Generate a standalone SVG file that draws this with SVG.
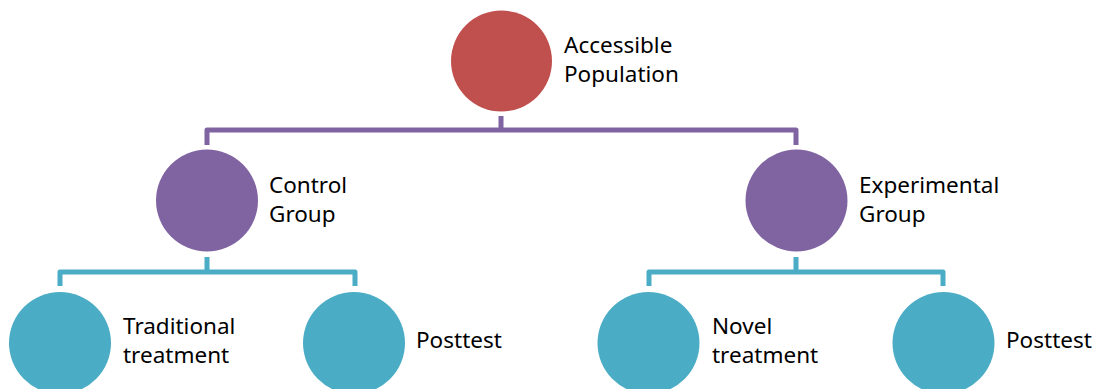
<svg xmlns="http://www.w3.org/2000/svg" width="1104" height="389" viewBox="0 0 1104 389">
<style>
.lbl{font-family:"Noto Sans","Open Sans","DejaVu Sans",sans-serif;font-size:22.5px;fill:#000}
.red{fill:#C0504D}
.pur{fill:#8064A2}
.teal{fill:#4BACC6}
.cp{fill:none;stroke:#8064A2;stroke-width:5;stroke-linejoin:round}
.ct{fill:none;stroke:#4BACC6;stroke-width:5;stroke-linejoin:round}
</style>
<rect width="1104" height="389" fill="#fff"/>
<g id="connectors">
<path class="cp" d="M501 116V130M207 145V130H796V145"/>
<path class="ct" d="M207 257V272M60 286V272H355V286"/>
<path class="ct" d="M796 257V272M649 286V272H943V286"/>
</g>
<g id="accessible-population">
<circle class="red" cx="501.5" cy="61" r="50.5"/>
<text class="lbl" x="564" y="53">Accessible</text>
<text class="lbl" x="564" y="82">Population</text>
</g>
<g id="control-group">
<circle class="pur" cx="207" cy="200.5" r="51"/>
<text class="lbl" x="269" y="193">Control</text>
<text class="lbl" x="269" y="222">Group</text>
</g>
<g id="experimental-group">
<circle class="pur" cx="796.5" cy="200.5" r="51"/>
<text class="lbl" x="859" y="193">Experimental</text>
<text class="lbl" x="859" y="222">Group</text>
</g>
<g id="traditional-treatment">
<circle class="teal" cx="60" cy="343" r="51"/>
<text class="lbl" x="123" y="334">Traditional</text>
<text class="lbl" x="123" y="363">treatment</text>
</g>
<g id="control-posttest">
<circle class="teal" cx="354" cy="343" r="51"/>
<text class="lbl" x="416" y="348">Posttest</text>
</g>
<g id="novel-treatment">
<circle class="teal" cx="648.5" cy="343" r="51"/>
<text class="lbl" x="712" y="334">Novel</text>
<text class="lbl" x="712" y="363">treatment</text>
</g>
<g id="experimental-posttest">
<circle class="teal" cx="943.5" cy="343" r="51"/>
<text class="lbl" x="1006" y="348">Posttest</text>
</g>
</svg>
